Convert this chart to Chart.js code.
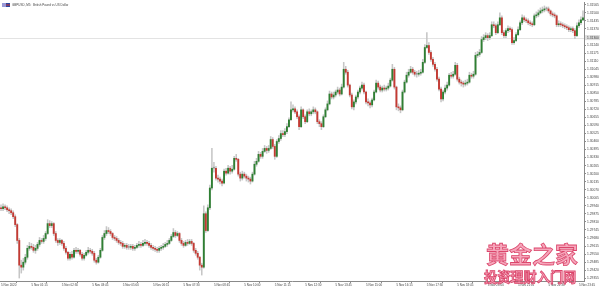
<!DOCTYPE html>
<html>
<head>
<meta charset="utf-8">
<script src="https://cdn.jsdelivr.net/npm/chart.js@4.4.0/dist/chart.umd.min.js"></script>
<style>
html, body { margin: 0; padding: 0; background: #fff; }
#wrap { position: relative; width: 600px; height: 288px; overflow: hidden; }
.wm { position: absolute; font-family: "Noto Sans CJK SC", sans-serif; font-weight: 700; line-height: 1; white-space: nowrap;
      color: rgba(244, 150, 175, 0.85); -webkit-text-stroke: 0.8px rgba(215, 55, 95, 0.9); }
#wm1 { left: 486px; top: 242px; font-size: 23px; letter-spacing: 0px; }
#wm2 { left: 484px; top: 270px; font-size: 13.2px; }
</style>
</head>
<body>
<div id="wrap">
  <canvas id="grafico" width="600" height="288"></canvas>
  <div class="wm" id="wm1">黄金之家</div>
  <div class="wm" id="wm2">投资理财入门网</div>
</div>
<script>
// GBPUSD M5, 5 Nov 2020
var opens = [
1.29924,1.29916,1.29932,1.29924,1.29908,1.29900,1.29884,1.29852,1.29788,1.29660,1.29460,1.29444,
1.29484,1.29524,1.29596,1.29612,1.29604,1.29580,1.29596,1.29628,1.29660,1.29652,1.29676,1.29716,
1.29796,1.29780,1.29796,1.29716,1.29660,1.29644,1.29660,1.29636,1.29596,1.29564,1.29516,1.29548,
1.29524,1.29580,1.29572,1.29580,1.29548,1.29516,1.29540,1.29564,1.29580,1.29572,1.29556,1.29500,
1.29484,1.29524,1.29580,1.29684,1.29716,1.29740,1.29732,1.29716,1.29684,1.29676,1.29660,1.29644,
1.29636,1.29612,1.29620,1.29604,1.29604,1.29612,1.29596,1.29604,1.29620,1.29628,1.29620,1.29636,
1.29644,1.29636,1.29620,1.29604,1.29596,1.29588,1.29580,1.29596,1.29604,1.29612,1.29628,1.29636,
1.29660,1.29692,1.29724,1.29700,1.29716,1.29660,1.29636,1.29620,1.29644,1.29636,1.29652,1.29636,
1.29580,1.29556,1.29524,1.29460,1.29444,1.29876,1.29740,1.29924,1.30084,1.30244,1.30244,1.30164,
1.30156,1.30140,1.30124,1.30220,1.30204,1.30244,1.30220,1.30236,1.30324,1.30316,1.30196,1.30164,
1.30196,1.30180,1.30164,1.30156,1.30140,1.30196,1.30276,1.30300,1.30356,1.30340,1.30380,1.30404,
1.30388,1.30404,1.30476,1.30420,1.30340,1.30460,1.30484,1.30524,1.30516,1.30540,1.30580,1.30636,
1.30716,1.30724,1.30700,1.30660,1.30580,1.30716,1.30660,1.30620,1.30700,1.30684,1.30700,1.30716,
1.30700,1.30620,1.30604,1.30580,1.30660,1.30716,1.30764,1.30844,1.30820,1.30836,1.30860,1.30876,
1.30844,1.30900,1.31044,1.31020,1.30916,1.30836,1.30740,1.30780,1.30820,1.30860,1.30892,1.30916,
1.30860,1.30780,1.30772,1.30756,1.30796,1.30860,1.30932,1.30900,1.30876,1.30892,1.30884,1.30892,
1.30908,1.30956,1.31044,1.30900,1.30740,1.30732,1.30716,1.30860,1.30940,1.30996,1.31020,1.31044,
1.31020,1.31004,1.31004,1.31012,1.31020,1.31100,1.31220,1.31236,1.31180,1.31124,1.31084,1.31044,
1.30964,1.30884,1.30804,1.30860,1.30892,1.30916,1.30996,1.30988,1.31004,1.31076,1.30964,1.30940,
1.30932,1.30924,1.30932,1.30940,1.30996,1.30988,1.31004,1.31156,1.31164,1.31180,1.31284,1.31300,
1.31316,1.31300,1.31316,1.31404,1.31396,1.31340,1.31404,1.31460,1.31340,1.31316,1.31356,1.31372,
1.31364,1.31260,1.31276,1.31324,1.31364,1.31420,1.31460,1.31444,1.31436,1.31420,1.31412,1.31404,
1.31476,1.31484,1.31500,1.31516,1.31524,1.31532,1.31532,1.31516,1.31492,1.31484,1.31476,1.31404,
1.31412,1.31404,1.31396,1.31388,1.31380,1.31364,1.31372,1.31356,1.31316,1.31396,1.31420,1.31444
];
var highs = [
1.29948,1.29956,1.29948,1.29940,1.29924,1.29916,1.29900,1.29868,1.29796,1.29676,1.29500,1.29516,
1.29548,1.29620,1.29644,1.29636,1.29628,1.29620,1.29644,1.29684,1.29676,1.29700,1.29732,1.29828,
1.29820,1.29812,1.29804,1.29732,1.29676,1.29676,1.29668,1.29652,1.29612,1.29572,1.29564,1.29572,
1.29596,1.29604,1.29596,1.29588,1.29564,1.29556,1.29580,1.29604,1.29596,1.29588,1.29572,1.29516,
1.29540,1.29596,1.29700,1.29740,1.29772,1.29764,1.29748,1.29724,1.29700,1.29692,1.29676,1.29660,
1.29652,1.29636,1.29636,1.29628,1.29628,1.29628,1.29620,1.29636,1.29652,1.29644,1.29660,1.29668,
1.29660,1.29652,1.29636,1.29620,1.29612,1.29604,1.29612,1.29620,1.29636,1.29644,1.29660,1.29676,
1.29708,1.29756,1.29740,1.29732,1.29724,1.29676,1.29652,1.29660,1.29668,1.29668,1.29668,1.29644,
1.29596,1.29572,1.29532,1.29476,1.29940,1.29892,1.29948,1.30108,1.30404,1.30292,1.30260,1.30188,
1.30172,1.30156,1.30236,1.30244,1.30268,1.30260,1.30268,1.30340,1.30356,1.30324,1.30212,1.30220,
1.30212,1.30196,1.30180,1.30172,1.30212,1.30300,1.30324,1.30380,1.30372,1.30404,1.30428,1.30420,
1.30428,1.30500,1.30492,1.30436,1.30476,1.30508,1.30548,1.30548,1.30564,1.30604,1.30652,1.30780,
1.30756,1.30740,1.30716,1.30676,1.30740,1.30724,1.30676,1.30716,1.30724,1.30716,1.30740,1.30732,
1.30708,1.30636,1.30620,1.30676,1.30732,1.30788,1.30868,1.30860,1.30860,1.30876,1.30900,1.30892,
1.30924,1.31100,1.31068,1.31036,1.30924,1.30852,1.30796,1.30836,1.30876,1.30908,1.30940,1.30932,
1.30868,1.30804,1.30788,1.30812,1.30876,1.30956,1.30948,1.30916,1.30908,1.30916,1.30908,1.30932,
1.30972,1.31084,1.31060,1.30908,1.30764,1.30748,1.30876,1.30956,1.31020,1.31044,1.31068,1.31060,
1.31036,1.31028,1.31036,1.31044,1.31124,1.31244,1.31340,1.31260,1.31196,1.31140,1.31100,1.31060,
1.30980,1.30900,1.30876,1.30916,1.30940,1.31012,1.31020,1.31028,1.31100,1.31092,1.30980,1.30956,
1.30948,1.30956,1.30964,1.31020,1.31012,1.31028,1.31180,1.31188,1.31204,1.31308,1.31324,1.31340,
1.31332,1.31340,1.31428,1.31428,1.31412,1.31428,1.31500,1.31476,1.31356,1.31372,1.31396,1.31388,
1.31380,1.31300,1.31340,1.31388,1.31436,1.31484,1.31476,1.31460,1.31452,1.31436,1.31428,1.31492,
1.31508,1.31524,1.31540,1.31548,1.31556,1.31548,1.31548,1.31524,1.31508,1.31500,1.31484,1.31436,
1.31428,1.31420,1.31412,1.31404,1.31396,1.31388,1.31388,1.31372,1.31420,1.31444,1.31468,1.31516
];
var lows = [
1.29900,1.29900,1.29908,1.29892,1.29876,1.29868,1.29836,1.29772,1.29636,1.29356,1.29396,1.29420,
1.29468,1.29508,1.29580,1.29588,1.29564,1.29556,1.29580,1.29612,1.29636,1.29636,1.29660,1.29708,
1.29764,1.29764,1.29700,1.29644,1.29620,1.29628,1.29620,1.29580,1.29548,1.29500,1.29500,1.29508,
1.29516,1.29556,1.29556,1.29532,1.29500,1.29500,1.29532,1.29548,1.29556,1.29540,1.29484,1.29468,
1.29476,1.29516,1.29572,1.29668,1.29700,1.29716,1.29700,1.29668,1.29660,1.29644,1.29628,1.29620,
1.29596,1.29596,1.29588,1.29588,1.29588,1.29580,1.29580,1.29596,1.29604,1.29604,1.29612,1.29620,
1.29620,1.29604,1.29588,1.29580,1.29572,1.29564,1.29564,1.29580,1.29588,1.29604,1.29612,1.29628,
1.29652,1.29684,1.29684,1.29692,1.29644,1.29620,1.29604,1.29612,1.29620,1.29628,1.29620,1.29564,
1.29540,1.29508,1.29420,1.29380,1.29436,1.29724,1.29732,1.29908,1.30068,1.30212,1.30148,1.30132,
1.30116,1.30100,1.30116,1.30188,1.30196,1.30196,1.30204,1.30228,1.30300,1.30180,1.30140,1.30148,
1.30164,1.30140,1.30132,1.30116,1.30132,1.30188,1.30260,1.30292,1.30324,1.30324,1.30372,1.30364,
1.30372,1.30396,1.30404,1.30316,1.30332,1.30444,1.30468,1.30500,1.30500,1.30524,1.30572,1.30628,
1.30700,1.30684,1.30644,1.30556,1.30572,1.30644,1.30604,1.30612,1.30668,1.30668,1.30684,1.30684,
1.30604,1.30580,1.30556,1.30572,1.30652,1.30708,1.30756,1.30804,1.30804,1.30820,1.30844,1.30828,
1.30836,1.30892,1.31004,1.30900,1.30820,1.30724,1.30716,1.30764,1.30804,1.30844,1.30876,1.30844,
1.30764,1.30748,1.30732,1.30740,1.30788,1.30852,1.30884,1.30860,1.30860,1.30868,1.30868,1.30876,
1.30900,1.30948,1.30884,1.30716,1.30708,1.30692,1.30708,1.30852,1.30932,1.30980,1.31012,1.31004,
1.30988,1.30980,1.30988,1.30996,1.31012,1.31092,1.31212,1.31164,1.31108,1.31068,1.31028,1.30948,
1.30868,1.30780,1.30788,1.30844,1.30876,1.30908,1.30972,1.30972,1.30996,1.30948,1.30924,1.30908,
1.30900,1.30908,1.30916,1.30932,1.30972,1.30972,1.30996,1.31140,1.31148,1.31172,1.31268,1.31284,
1.31276,1.31284,1.31308,1.31380,1.31324,1.31332,1.31396,1.31324,1.31300,1.31300,1.31340,1.31348,
1.31244,1.31244,1.31268,1.31316,1.31356,1.31404,1.31428,1.31420,1.31404,1.31396,1.31388,1.31396,
1.31460,1.31468,1.31492,1.31500,1.31508,1.31516,1.31500,1.31476,1.31468,1.31460,1.31388,1.31388,
1.31388,1.31380,1.31372,1.31364,1.31348,1.31348,1.31340,1.31292,1.31308,1.31380,1.31404,1.31436
];
var closes = [
1.29916,1.29932,1.29924,1.29908,1.29900,1.29884,1.29852,1.29788,1.29660,1.29460,1.29444,1.29484,
1.29524,1.29596,1.29612,1.29604,1.29580,1.29596,1.29628,1.29660,1.29652,1.29676,1.29716,1.29796,
1.29780,1.29796,1.29716,1.29660,1.29644,1.29660,1.29636,1.29596,1.29564,1.29516,1.29548,1.29524,
1.29580,1.29572,1.29580,1.29548,1.29516,1.29540,1.29564,1.29580,1.29572,1.29556,1.29500,1.29484,
1.29524,1.29580,1.29684,1.29716,1.29740,1.29732,1.29716,1.29684,1.29676,1.29660,1.29644,1.29636,
1.29612,1.29620,1.29604,1.29604,1.29612,1.29596,1.29604,1.29620,1.29628,1.29620,1.29636,1.29644,
1.29636,1.29620,1.29604,1.29596,1.29588,1.29580,1.29596,1.29604,1.29612,1.29628,1.29636,1.29660,
1.29692,1.29724,1.29700,1.29716,1.29660,1.29636,1.29620,1.29644,1.29636,1.29652,1.29636,1.29580,
1.29556,1.29524,1.29460,1.29444,1.29876,1.29740,1.29924,1.30084,1.30244,1.30244,1.30164,1.30156,
1.30140,1.30124,1.30220,1.30204,1.30244,1.30220,1.30236,1.30324,1.30316,1.30196,1.30164,1.30196,
1.30180,1.30164,1.30156,1.30140,1.30196,1.30276,1.30300,1.30356,1.30340,1.30380,1.30404,1.30388,
1.30404,1.30476,1.30420,1.30340,1.30460,1.30484,1.30524,1.30516,1.30540,1.30580,1.30636,1.30716,
1.30724,1.30700,1.30660,1.30580,1.30716,1.30660,1.30620,1.30700,1.30684,1.30700,1.30716,1.30700,
1.30620,1.30604,1.30580,1.30660,1.30716,1.30764,1.30844,1.30820,1.30836,1.30860,1.30876,1.30844,
1.30900,1.31044,1.31020,1.30916,1.30836,1.30740,1.30780,1.30820,1.30860,1.30892,1.30916,1.30860,
1.30780,1.30772,1.30756,1.30796,1.30860,1.30932,1.30900,1.30876,1.30892,1.30884,1.30892,1.30908,
1.30956,1.31044,1.30900,1.30740,1.30732,1.30716,1.30860,1.30940,1.30996,1.31020,1.31044,1.31020,
1.31004,1.31004,1.31012,1.31020,1.31100,1.31220,1.31236,1.31180,1.31124,1.31084,1.31044,1.30964,
1.30884,1.30804,1.30860,1.30892,1.30916,1.30996,1.30988,1.31004,1.31076,1.30964,1.30940,1.30932,
1.30924,1.30932,1.30940,1.30996,1.30988,1.31004,1.31156,1.31164,1.31180,1.31284,1.31300,1.31316,
1.31300,1.31316,1.31404,1.31396,1.31340,1.31404,1.31460,1.31340,1.31316,1.31356,1.31372,1.31364,
1.31260,1.31276,1.31324,1.31364,1.31420,1.31460,1.31444,1.31436,1.31420,1.31412,1.31404,1.31476,
1.31484,1.31500,1.31516,1.31524,1.31532,1.31532,1.31516,1.31492,1.31484,1.31476,1.31404,1.31412,
1.31404,1.31396,1.31388,1.31380,1.31364,1.31372,1.31356,1.31316,1.31396,1.31420,1.31444,1.31460
];

// rótulos do eixo de preços e do eixo de tempo
var priceTicks = [
1.31565,1.31500,1.31435,1.31370,1.31305,1.31240,1.31175,1.31110,1.31045,1.30980,1.30915,1.30850,
1.30785,1.30720,1.30655,1.30590,1.30525,1.30460,1.30395,1.30330,1.30265,1.30200,1.30135,1.30070,
1.30005,1.29940,1.29875,1.29810,1.29745,1.29680,1.29615,1.29550,1.29485,1.29420,1.29355
];
var timeTicks = ['00:00','01:15','02:30','03:45','05:00','06:15','07:30','08:45','10:00','11:15',
                 '12:30','13:45','15:00','16:15','17:30','18:45','20:00','21:15','22:30','23:45'];
var priceLine = 1.31300;
var yMax = 1.31580, yMin = 1.29332;
var titulo = 'GBPUSD, M5:  British Pound vs US Dollar';

if (opens.length !== closes.length || highs.length !== closes.length || lows.length !== closes.length) {
    throw new Error('tamanhos diferentes: ' + opens.length + ' ' + highs.length + ' ' + lows.length + ' ' + closes.length);
}

// categorias: barras de 5 minutos
var horas = [];
for (var i = 0; i < closes.length; i++) {
    var m = i * 5;
    horas.push(String(Math.floor(m / 60)).padStart(2, '0') + ':' + String(m % 60).padStart(2, '0'));
}

var corpos = closes.map(function(c, i) {
    if (c > opens[i]) return '#2f7f33';
    if (c < opens[i]) return '#c43a33';
    return '#9a9a9a';
});

var extras = {
    id: 'extras',
    beforeDatasetsDraw: function(chart) {
        var ctx = chart.ctx, area = chart.chartArea;
        var y = Math.round(chart.scales.y.getPixelForValue(priceLine)) + 0.5;
        ctx.save();
        ctx.strokeStyle = '#e3e3e3';
        ctx.lineWidth = 1;
        ctx.beginPath();
        ctx.moveTo(area.left, y);
        ctx.lineTo(area.right, y);
        ctx.stroke();
        ctx.restore();
    },
    afterDraw: function(chart) {
        var ctx = chart.ctx, area = chart.chartArea;
        var y = chart.scales.y.getPixelForValue(priceLine);
        ctx.save();
        // caixa do preço atual no eixo
        ctx.fillStyle = '#dedede';
        ctx.fillRect(area.right + 1, y - 2.5, 15, 5);
        ctx.fillStyle = '#333';
        ctx.font = '3.3px "Liberation Sans"';
        ctx.textBaseline = 'middle';
        ctx.fillText(priceLine.toFixed(5), area.right + 3, y);
        // ícone e título
        ctx.fillStyle = '#9a9ad8';
        ctx.fillRect(2, 3, 4, 4);
        ctx.fillStyle = '#2b4aa0';
        ctx.fillRect(6, 3, 4, 4);
        ctx.fillStyle = '#d03030';
        ctx.fillRect(6, 4.5, 4, 1);
        ctx.fillStyle = '#444';
        ctx.font = '3px "Liberation Sans"';
        ctx.fillText(titulo, 12, 5);
        ctx.restore();
    }
};

new Chart(document.getElementById('grafico'), {
    type: 'bar',
    data: {
        labels: horas,
        datasets: [{
            label: 'Corpo',
            data: opens.map(function(o, i) { return [o, closes[i]]; }),
            backgroundColor: corpos,
            barThickness: 1.25,
            minBarLength: 1,
            borderWidth: 0,
            order: 1
        }, {
            label: 'Sombra',
            data: lows.map(function(l, i) { return [l, highs[i]]; }),
            backgroundColor: '#c6c6c6',
            barThickness: 0.9,
            borderWidth: 0,
            order: 2
        }]
    },
    options: {
        responsive: false,
        animation: false,
        layout: { padding: 0 },
        datasets: { bar: { grouped: false } },
        plugins: { legend: { display: false }, tooltip: { enabled: false } },
        scales: {
            x: {
                grid: { drawOnChartArea: false, drawTicks: true, tickLength: 2, color: '#8a8a8a' },
                border: { display: true, color: '#8a8a8a' },
                ticks: {
                    autoSkip: false,
                    maxRotation: 0,
                    align: 'start',
                    padding: 0,
                    color: '#444',
                    font: { family: 'Liberation Sans', size: 3 },
                    callback: function(v) {
                        var h = this.getLabelForValue(v);
                        return h === '00:00' ? '5 Nov 2020' : '5 Nov ' + h;
                    }
                },
                afterBuildTicks: function(scale) {
                    scale.ticks = scale.ticks.filter(function(t) { return timeTicks.indexOf(horas[t.value]) >= 0; });
                },
                afterFit: function(scale) { scale.height = 7; }
            },
            y: {
                position: 'right',
                min: yMin,
                max: yMax,
                grid: { drawOnChartArea: false, drawTicks: true, tickLength: 2, color: '#8a8a8a' },
                border: { display: true, color: '#8a8a8a' },
                ticks: {
                    padding: 1,
                    color: '#444',
                    font: { family: 'Liberation Sans', size: 3.3 },
                    callback: function(v) { return Number(v).toFixed(5); }
                },
                afterBuildTicks: function(scale) {
                    scale.ticks = priceTicks.map(function(v) { return { value: v }; });
                },
                afterFit: function(scale) { scale.width = 16; }
            }
        }
    },
    plugins: [extras]
});
</script>
</body>
</html>
